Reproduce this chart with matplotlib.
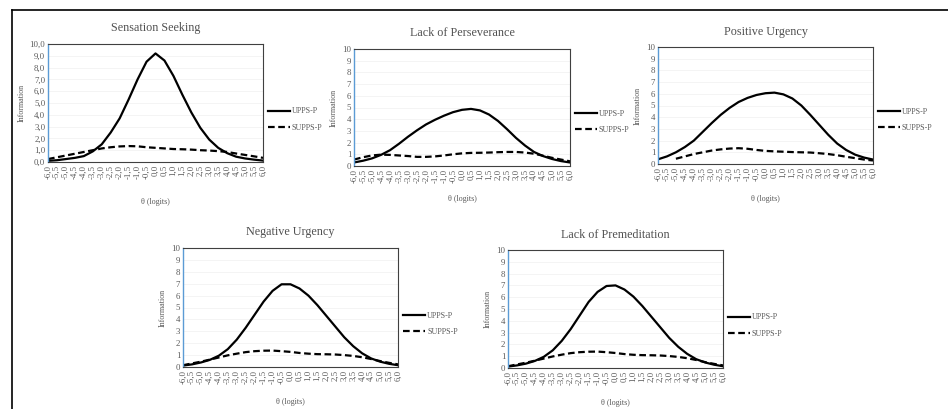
import numpy as np
import matplotlib.pyplot as plt
from matplotlib.lines import Line2D
plt.switch_backend('agg')
plt.rcParams['font.family'] = ['Liberation Serif', 'DejaVu Serif']

# theta values (logits) on the category axis
theta = [-6.0, -5.5, -5.0, -4.5, -4.0, -3.5, -3.0, -2.5, -2.0, -1.5, -1.0, -0.5,
         0.0, 0.5, 1.0, 1.5, 2.0, 2.5, 3.0, 3.5, 4.0, 4.5, 5.0, 5.5, 6.0]
theta_labels = ['{:.1f}'.format(t).replace('.', ',') for t in theta]

titles = ['Sensation Seeking', 'Lack of Perseverance', 'Positive Urgency',
          'Negative Urgency', 'Lack of Premeditation']

# information curves
ss_upps = [0.1, 0.15, 0.25, 0.35, 0.5, 0.9, 1.5, 2.5, 3.7, 5.3, 7.0, 8.5,
           9.2, 8.6, 7.3, 5.7, 4.2, 2.9, 1.9, 1.2, 0.75, 0.45, 0.3, 0.2, 0.12]
ss_supps = [0.25, 0.4, 0.55, 0.7, 0.85, 1.0, 1.15, 1.25, 1.32, 1.35, 1.33, 1.25,
            1.2, 1.15, 1.1, 1.08, 1.05, 1.0, 0.97, 0.92, 0.85, 0.72, 0.6, 0.48, 0.35]
lp_upps = [0.3, 0.45, 0.65, 0.95, 1.35, 1.9, 2.5, 3.05, 3.55, 3.95, 4.3, 4.6,
           4.8, 4.88, 4.75, 4.4, 3.85, 3.15, 2.4, 1.75, 1.2, 0.85, 0.6, 0.42, 0.3]
lp_supps = [0.55, 0.75, 0.9, 0.97, 0.95, 0.9, 0.85, 0.78, 0.78, 0.82, 0.9, 1.0,
            1.08, 1.12, 1.13, 1.15, 1.18, 1.2, 1.2, 1.15, 1.05, 0.88, 0.7, 0.55, 0.4]
pu_upps = [0.4, 0.65, 1.0, 1.45, 2.0, 2.75, 3.5, 4.2, 4.8, 5.3, 5.65, 5.9,
           6.05, 6.1, 5.95, 5.6, 5.0, 4.2, 3.35, 2.5, 1.75, 1.2, 0.8, 0.55, 0.38]
pu_supps = [np.nan, np.nan, 0.45, 0.65, 0.85, 1.0, 1.15, 1.25, 1.32, 1.35, 1.3, 1.2,
            1.12, 1.08, 1.05, 1.02, 1.0, 0.98, 0.92, 0.85, 0.75, 0.62, 0.5, 0.38, 0.3]
nu_upps = [0.12, 0.22, 0.38, 0.6, 0.95, 1.5, 2.3, 3.3, 4.4, 5.5, 6.4, 6.95,
           6.95, 6.6, 6.0, 5.2, 4.3, 3.4, 2.5, 1.75, 1.15, 0.72, 0.45, 0.27, 0.15]
nu_supps = [0.15, 0.3, 0.45, 0.62, 0.8, 0.98, 1.12, 1.25, 1.33, 1.37, 1.38, 1.33,
            1.27, 1.18, 1.12, 1.08, 1.07, 1.05, 1.0, 0.93, 0.82, 0.67, 0.5, 0.35, 0.22]
lm_upps = [0.12, 0.22, 0.37, 0.6, 0.95, 1.5, 2.3, 3.3, 4.45, 5.6, 6.45, 6.95,
           7.0, 6.65, 6.05, 5.25, 4.35, 3.45, 2.55, 1.8, 1.2, 0.75, 0.47, 0.28, 0.15]
lm_supps = [0.15, 0.3, 0.45, 0.62, 0.8, 0.98, 1.13, 1.26, 1.34, 1.38, 1.39, 1.34,
            1.27, 1.18, 1.12, 1.09, 1.08, 1.06, 1.01, 0.94, 0.83, 0.68, 0.5, 0.35, 0.22]

upps = [ss_upps, lp_upps, pu_upps, nu_upps, lm_upps]
supps = [ss_supps, lp_supps, pu_supps, nu_supps, lm_supps]

# axes boxes in pixels: left, right, top, bottom
boxes = [(48, 263, 44, 162), (354, 570, 49, 166), (658, 873, 47, 164),
         (183, 398, 248, 367), (508, 723, 250, 368)]
legend_y = [0.36, 0.38, 0.38, 0.36, 0.36]
xlabel_pad = [14, 9, 10, 10, 10]

W, H = 948, 409
fig = plt.figure(figsize=(W / 100, H / 100), dpi=100)
grey = '#595959'

for i in range(5):
    l, r, t, b = boxes[i]
    ax = fig.add_axes([l / W, 1 - b / H, (r - l) / W, (b - t) / H])
    ax.plot(theta, upps[i], color='black', lw=1.6, label='UPPS-P')
    ax.plot(theta, supps[i], color='black', lw=1.6, ls=(0, (3, 1.6)), label='SUPPS-P')
    ax.set_xlim(-6, 6)
    ax.set_ylim(0, 10)
    ax.set_xticks(theta)
    ax.set_xticklabels(theta_labels, rotation=90)
    ax.set_yticks(range(11))
    if i == 0:
        ax.set_yticklabels(['{:.1f}'.format(v).replace('.', ',') for v in range(11)])
    ax.tick_params(axis='both', length=0, labelsize=6.3, labelcolor=grey, pad=2)
    ax.grid(axis='y', color='#f0f0f0', lw=0.5)
    ax.set_axisbelow(True)
    for s in ['top', 'right', 'bottom']:
        ax.spines[s].set_color('#404040')
        ax.spines[s].set_linewidth(0.8)
    ax.spines['left'].set_color('#5b9bd5')
    ax.spines['left'].set_linewidth(1.0)
    ax.set_title(titles[i], fontsize=8.7, color='#505050', pad=9)
    ax.set_ylabel('Information', fontsize=5.8, color=grey, labelpad=3)
    ax.set_xlabel('θ (logits)', fontsize=5.8, color=grey, labelpad=xlabel_pad[i])
    ax.legend(loc='center left', bbox_to_anchor=(1.0, legend_y[i]), frameon=False,
              fontsize=5.8, handlelength=2.8, labelcolor=grey,
              handletextpad=0.2, labelspacing=1.0, borderaxespad=0.2)

# outer frame: top and left edges
fig.add_artist(Line2D([12 / W, 12 / W], [0, 1 - 10 / H], color='black', lw=1.2))
fig.add_artist(Line2D([12 / W, 1], [1 - 10 / H, 1 - 10 / H], color='black', lw=1.2))

fig.savefig('out.png', dpi=100)
